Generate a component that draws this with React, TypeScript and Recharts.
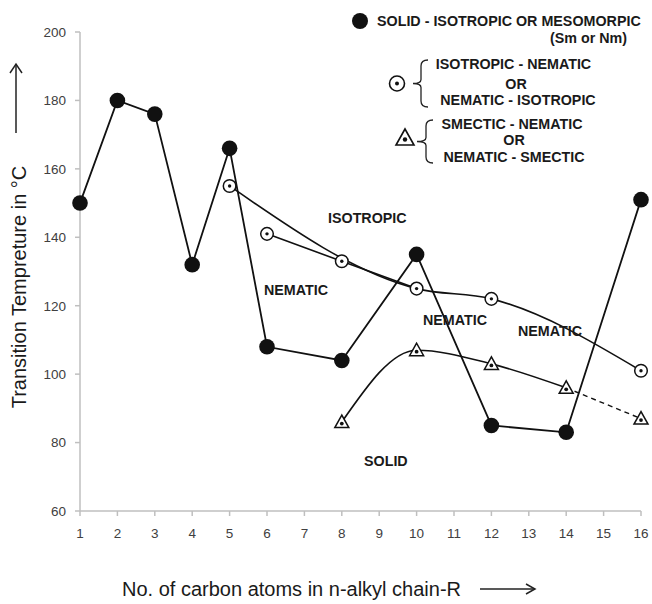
import React from "react";
import { LineChart, Line, XAxis, YAxis } from "recharts";

// ---- data ----
const carbonAtoms = [1, 2, 3, 4, 5, 6, 8, 10, 12, 14, 16];
const solidIsoMeso = [150, 180, 176, 132, 166, 108, 104, 135, 85, 83, 151];
const isoNematic = [null, null, null, null, 155, 141, 133, 125, 122, null, 101];
const smecticNematic = [null, null, null, null, null, null, 86, 107, 103, 96, 87];
const isoCurveAt = [5, 10, 12, 16];
const isoStraightAt = [6, 8, 10];
const smecticCurveAt = [8, 10, 12, 14];
const smecticDashAt = [14, 16];
const xTicks = [1, 2, 3, 4, 5, 6, 7, 8, 9, 10, 11, 12, 13, 14, 15, 16];
const yTicks = [60, 80, 100, 120, 140, 160, 180, 200];

const data = carbonAtoms.map((x, i) => ({
  x,
  solid: solidIsoMeso[i],
  iso: isoNematic[i],
  smec: smecticNematic[i],
  isoCurve: isoCurveAt.includes(x) ? isoNematic[i] : null,
  isoStraight: isoStraightAt.includes(x) ? isoNematic[i] : null,
  smecCurve: smecticCurveAt.includes(x) ? smecticNematic[i] : null,
  smecDash: smecticDashAt.includes(x) ? smecticNematic[i] : null,
}));

const FONT = "'Liberation Sans', Arial, sans-serif";
const INK = "#111";

const valid = (p: any) =>
  p && p.value !== null && p.value !== undefined && Number.isFinite(p.cx) && Number.isFinite(p.cy);

const SolidDot = (p: any) =>
  valid(p) ? <circle key={p.key ?? p.index} cx={p.cx} cy={p.cy} r={7.8} fill={INK} /> : null;

const CircleDot = (p: any) =>
  valid(p) ? (
    <g key={p.key ?? p.index}>
      <circle cx={p.cx} cy={p.cy} r={6.3} fill="#fff" stroke={INK} strokeWidth={1.5} />
      <circle cx={p.cx} cy={p.cy} r={1.7} fill={INK} />
    </g>
  ) : null;

const TriDot = (p: any) =>
  valid(p) ? (
    <g key={p.key ?? p.index}>
      <polygon
        points={`${p.cx},${p.cy - 7} ${p.cx - 7},${p.cy + 5.5} ${p.cx + 7},${p.cy + 5.5}`}
        fill="#fff"
        stroke={INK}
        strokeWidth={1.5}
      />
      <circle cx={p.cx} cy={p.cy + 1.5} r={1.9} fill={INK} />
    </g>
  ) : null;

const brace = (x: number, top: number, bot: number, tip: number) => {
  const mid = (top + bot) / 2;
  return `M ${x + 7} ${top} Q ${x} ${top} ${x} ${top + 6} L ${x} ${mid - 4} Q ${x} ${mid} ${tip} ${mid} Q ${x} ${mid} ${x} ${mid + 4} L ${x} ${bot - 6} Q ${x} ${bot} ${x + 7} ${bot}`;
};

const labelStyle = { fontFamily: FONT, fontWeight: 700, fontSize: 14.3, fill: "#1a1a1a" } as const;
const titleStyle = { fontFamily: FONT, fontSize: 20, fill: "#1a1a1a" } as const;

export default function App() {
  return (
    <div style={{ position: "absolute", left: 0, top: 0, width: 652, height: 604, background: "#fff" }}>
      <LineChart width={652} height={604} data={data} margin={{ top: 32, right: 11, bottom: 0, left: 0 }}>
        <XAxis
          type="number"
          dataKey="x"
          domain={[1, 16]}
          ticks={xTicks}
          interval={0}
          height={93}
          tickSize={5}
          tickMargin={12}
          stroke="#bfbfbf"
          strokeWidth={1.5}
          tick={{ fill: "#404040", fontSize: 13.5, fontFamily: FONT }}
        />
        <YAxis
          type="number"
          domain={[60, 200]}
          ticks={yTicks}
          width={80}
          tickSize={5}
          tickMargin={9}
          stroke="#bfbfbf"
          strokeWidth={1.5}
          tick={{ fill: "#404040", fontSize: 13.5, fontFamily: FONT }}
        />
        <Line dataKey="solid" type="linear" stroke={INK} strokeWidth={1.8} dot={false} connectNulls isAnimationActive={false} />
        <Line dataKey="isoCurve" type="monotone" stroke={INK} strokeWidth={1.6} dot={false} connectNulls isAnimationActive={false} />
        <Line dataKey="isoStraight" type="linear" stroke={INK} strokeWidth={1.6} dot={false} connectNulls isAnimationActive={false} />
        <Line dataKey="smecCurve" type="monotone" stroke={INK} strokeWidth={1.6} dot={false} connectNulls isAnimationActive={false} />
        <Line dataKey="smecDash" type="linear" stroke={INK} strokeWidth={1.4} strokeDasharray="5 4" dot={false} connectNulls isAnimationActive={false} />
        <Line dataKey="iso" stroke="none" dot={CircleDot} activeDot={false} isAnimationActive={false} />
        <Line dataKey="smec" stroke="none" dot={TriDot} activeDot={false} isAnimationActive={false} />
        <Line dataKey="solid" stroke="none" dot={SolidDot} activeDot={false} isAnimationActive={false} />
      </LineChart>
      <svg width={652} height={604} style={{ position: "absolute", left: 0, top: 0, pointerEvents: "none" }}>
        {/* Y axis title + arrow */}
        <text transform="translate(26 287) rotate(-90)" textAnchor="middle" style={titleStyle}>
          Transition Tempreture in °C
        </text>
        <line x1={16} y1={133} x2={16} y2={64} stroke="#222" strokeWidth={1.5} />
        <polyline points="10,73 16,64 22,73" fill="none" stroke="#222" strokeWidth={1.5} />
        {/* X axis title + arrow */}
        <text x={122} y={596} style={titleStyle}>
          No. of carbon atoms in n-alkyl chain-R
        </text>
        <line x1={480} y1={589} x2={535} y2={589} stroke="#222" strokeWidth={1.5} />
        <polyline points="526,584 535,589 526,594" fill="none" stroke="#222" strokeWidth={1.5} />
        {/* region annotations */}
        <text x={328} y={223} style={labelStyle}>ISOTROPIC</text>
        <text x={264} y={295} style={labelStyle}>NEMATIC</text>
        <text x={423} y={325} style={labelStyle}>NEMATIC</text>
        <text x={518} y={336} style={labelStyle}>NEMATIC</text>
        <text x={364} y={466} style={labelStyle}>SOLID</text>
        {/* legend */}
        <circle cx={360} cy={21} r={8} fill={INK} />
        <text x={377} y={26} style={labelStyle}>SOLID - ISOTROPIC OR MESOMORPIC</text>
        <text x={627} y={42.5} textAnchor="end" style={labelStyle}>(Sm or Nm)</text>
        <circle cx={397} cy={83.5} r={7.5} fill="#fff" stroke={INK} strokeWidth={1.6} />
        <circle cx={397} cy={83.5} r={2} fill={INK} />
        <path d={brace(421, 60, 107, 413)} fill="none" stroke="#222" strokeWidth={1.3} />
        <text x={513.5} y={69} textAnchor="middle" style={labelStyle}>ISOTROPIC - NEMATIC</text>
        <text x={516} y={88.5} textAnchor="middle" style={labelStyle}>OR</text>
        <text x={518} y={104.5} textAnchor="middle" style={labelStyle}>NEMATIC - ISOTROPIC</text>
        <polygon points="405,129 396,145 414,145" fill="#fff" stroke={INK} strokeWidth={1.6} />
        <circle cx={405} cy={139.5} r={2.2} fill={INK} />
        <path d={brace(426, 120, 163, 417)} fill="none" stroke="#222" strokeWidth={1.3} />
        <text x={512} y={129} textAnchor="middle" style={labelStyle}>SMECTIC - NEMATIC</text>
        <text x={514} y={145} textAnchor="middle" style={labelStyle}>OR</text>
        <text x={514} y={162} textAnchor="middle" style={labelStyle}>NEMATIC - SMECTIC</text>
      </svg>
    </div>
  );
}
